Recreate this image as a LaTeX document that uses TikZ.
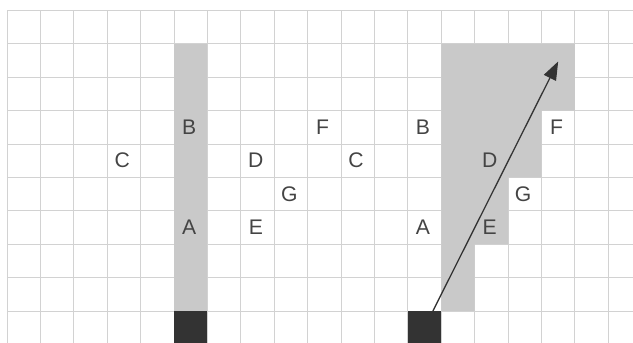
\documentclass[tikz,border=0pt]{standalone}
\usepackage{fontspec}
\setmainfont{Liberation Sans}
\usepackage{xcolor}
\usetikzlibrary{arrows.meta,positioning,calc}

\definecolor{gridgray}{HTML}{D2D2D2}
\definecolor{shade}{HTML}{C9C9C9}
\definecolor{block}{HTML}{333333}
\definecolor{ink}{HTML}{444444}

\begin{document}
\begin{tikzpicture}[
            font=\fontsize{18}{20}\selectfont,
            cellgrid/.style={draw=gridgray,line width=0.7pt},
            lit/.style={fill=shade},
            wall/.style={fill=block},
            letter/.style={text=ink,inner sep=0pt},
            ray/.style={-{Triangle[length=5.5mm,width=4mm]},line width=1.1pt,draw=block}
        ]
            \clip (-0.21,-0.93) rectangle (18.74,9.31);
            \useasboundingbox (-0.21,-0.93) rectangle (18.74,9.31);

            % grid
            \draw[cellgrid] (0,-1) grid (19,9);

            % left: straight column
            \fill[lit] (5,0) rectangle (6,8);
            \fill[wall] (5,-1) rectangle (6,0);

            \node[letter] (lB) at (5.45,5.5) {B};
            \node[letter] (lA) at (5.45,2.5) {A};
            \node[letter] (lC) at (3.45,4.5) {C};
            \node[letter] (lD) at (7.45,4.5) {D};
            \node[letter] (lE) at (7.45,2.5) {E};
            \node[letter] (lG) at (8.45,3.5) {G};
            \node[letter] (lF) at (9.45,5.5) {F};

            % right: staircase
            \fill[lit] (13,0) -- (14,0) -- (14,2) -- (15,2) -- (15,4) -- (16,4)
                -- (16,6) -- (17,6) -- (17,8) -- (13,8) -- cycle;
            \fill[wall] (12,-1) rectangle (13,0);

            \node[letter] (rC) at (10.45,4.5) {C};
            \node[letter] (rB) at (12.45,5.5) {B};
            \node[letter] (rA) at (12.45,2.5) {A};
            \node[letter] (rD) at (14.45,4.5) {D};
            \node[letter] (rE) at (14.45,2.5) {E};
            \node[letter] (rG) at (15.45,3.5) {G};
            \node[letter] (rF) at (16.45,5.5) {F};

            \coordinate (src) at (12.75,0);
            \coordinate (dst) at (16.5,7.47);
            \draw[ray] (src) -- (dst);
        \end{tikzpicture}
\end{document}
